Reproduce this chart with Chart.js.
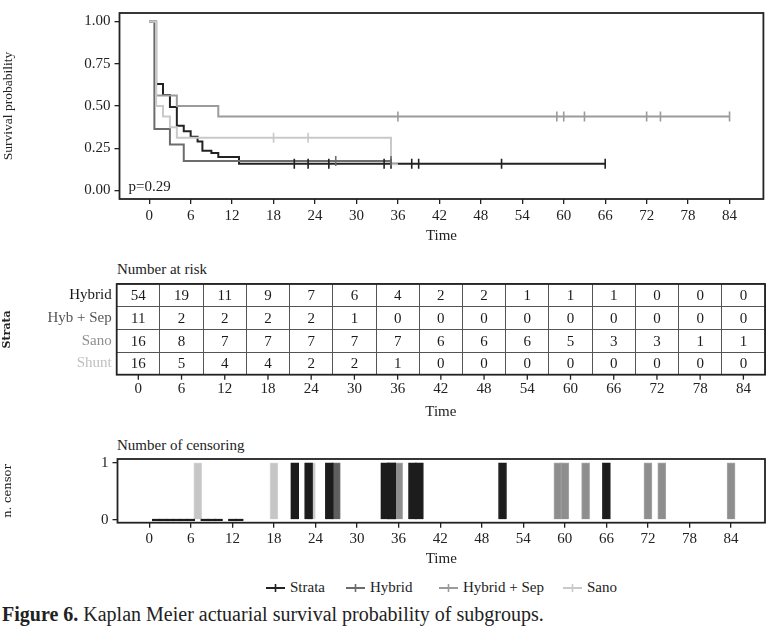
<!DOCTYPE html>
<html>
<head>
<meta charset="utf-8">
<script src="https://cdn.jsdelivr.net/npm/chart.js@4.4.1/dist/chart.umd.min.js"></script>
<style>
  body { margin: 0; background: #fff; width: 770px; height: 627px; position: relative; overflow: hidden;
         font-family: "Liberation Serif", "Times New Roman", serif; color: #222; }
  canvas { position: absolute; left: 0; }
  .txt { position: absolute; white-space: nowrap; font-size: 15px; line-height: 1; }
  .leg { position: absolute; top: 580px; font-size: 15px; line-height: 1; white-space: nowrap; }
  .leg svg { vertical-align: middle; margin-right: 5px; position: relative; top: -1px; }
</style>
</head>
<body>
<canvas id="km" width="770" height="250" style="top:0"></canvas>
<div class="txt" style="left:117px; top:262px">Number at risk</div>
<canvas id="risk" width="770" height="160" style="top:262px"></canvas>
<div class="txt" style="left:117px; top:438px">Number of censoring</div>
<canvas id="cens" width="770" height="140" style="top:430px"></canvas>
<div id="legend"></div>
<div class="txt" style="left:2px; top:604px; font-size:20px"><b>Figure 6.</b> Kaplan Meier actuarial survival probability of subgroups.</div>

<script>
const timeTicks = [0, 6, 12, 18, 24, 30, 36, 42, 48, 54, 60, 66, 72, 78, 84];
const survTicks = [0, 0.25, 0.5, 0.75, 1];
const strata = ['Hybrid', 'Hyb + Sep', 'Sano', 'Shunt'];
const legendNames = ['Strata', 'Hybrid', 'Hybrid + Sep', 'Sano'];
const lineColors = ['#222222', '#6c6c6c', '#9b9b9b', '#c9c9c9'];
const labelColors = ['#1a1a1a', '#555555', '#8e8e8e', '#c0c0c0'];

// Kaplan-Meier steps (time, survival after the step)
const hybridTime = [0, 1, 2, 3, 4, 5, 6, 7, 7.7, 9, 10, 13, 66];
const hybridSurv = [1, 0.63, 0.565, 0.494, 0.383, 0.35, 0.318, 0.29, 0.235, 0.222, 0.198, 0.158, 0.158];
const hybSepTime = [0, 0.75, 3, 5, 35];
const hybSepSurv = [1, 0.364, 0.273, 0.175, 0.175];
const sanoTime = [0, 1, 4, 10, 84];
const sanoSurv = [1, 0.5625, 0.5, 0.4375, 0.4375];
const shuntTime = [0, 1, 2, 3, 4, 35, 36];
const shuntSurv = [1, 0.5, 0.4375, 0.375, 0.3125, 0.156, 0.156];

// censor marks on curves
const hybridMarks = [21, 23, 26, 34, 35, 38, 39, 51, 66];
const hybSepMarks = [27, 35];
const sanoMarks = [36, 59, 60, 63, 72, 74, 84];
const shuntMarks = [18, 23];

// number at risk
const riskHybrid = [54, 19, 11, 9, 7, 6, 4, 2, 2, 1, 1, 1, 0, 0, 0];
const riskHybSep = [11, 2, 2, 2, 2, 1, 0, 0, 0, 0, 0, 0, 0, 0, 0];
const riskSano   = [16, 8, 7, 7, 7, 7, 7, 6, 6, 6, 5, 3, 3, 1, 1];
const riskShunt  = [16, 5, 4, 4, 2, 2, 1, 0, 0, 0, 0, 0, 0, 0, 0];

// number of censoring
const hybridCensTime = [1, 2, 3, 4, 5, 6, 8, 9, 10, 12, 13, 21, 23, 26, 34, 35, 38, 39, 51, 66];
const hybridCensN    = [0, 0, 0, 0, 0, 0, 0, 0, 0, 0, 0, 1, 1, 1, 1, 1, 1, 1, 1, 1];
const hybSepCensTime = [27, 35];
const hybSepCensN    = [1, 1];
const sanoCensTime   = [36, 59, 60, 63, 72, 74, 84];
const sanoCensN      = [1, 1, 1, 1, 1, 1, 1];
const shuntCensTime  = [7, 18, 23.4];
const shuntCensN     = [1, 1, 1];

Chart.defaults.font.family = '"Liberation Serif", "Times New Roman", serif';
Chart.defaults.color = '#222';
const f15 = { size: 15 };

const frame = {
  id: 'frame',
  afterDraw(chart) {
    const { ctx, chartArea: a } = chart;
    ctx.save();
    ctx.strokeStyle = '#222';
    ctx.lineWidth = 1.8;
    ctx.strokeRect(a.left, a.top, a.right - a.left, a.bottom - a.top);
    ctx.restore();
  }
};

const pts = (xs, ys) => xs.map((x, i) => ({ x, y: ys[i] }));
const marks = (xs, y) => xs.map(x => ({ x, y }));

function xAxis(min, h, pad, tpad) {
  return {
    type: 'linear', min, max: 88.9, offset: false,
    afterBuildTicks: s => { s.ticks = timeTicks.map(v => ({ value: v })); },
    afterFit: s => { s.height = h; },
    grid: { offset: false, drawOnChartArea: false, tickLength: 5, color: '#222', lineWidth: 1.3 },
    border: { display: false },
    ticks: { font: f15, color: '#222', padding: pad, maxRotation: 0, autoSkip: false },
    title: { display: true, text: 'Time', font: f15, color: '#222', padding: { top: 0, bottom: tpad } }
  };
}

// ---- Kaplan-Meier panel
const curves = [
  [hybridTime, hybridSurv], [hybSepTime, hybSepSurv], [sanoTime, sanoSurv], [shuntTime, shuntSurv]
];
const markSets = [hybridMarks, hybSepMarks, sanoMarks, shuntMarks];
const kmSets = [];
curves.forEach((c, i) => {
  kmSets.push({
    data: pts(c[0], c[1]), showLine: true, stepped: true, pointRadius: 0,
    borderColor: lineColors[i], borderWidth: 2, order: 10 - i
  });
});
markSets.forEach((m, i) => {
  const lvl = curves[i][1][curves[i][1].length - 1];
  const yv = i === 3 ? 0.3125 : lvl;
  kmSets.push({
    data: marks(m, yv), showLine: false, pointStyle: 'line', rotation: 90, pointRadius: 5,
    borderColor: lineColors[i], borderWidth: 1.6, order: 4 - i
  });
});

new Chart(document.getElementById('km'), {
  type: 'scatter',
  data: { datasets: kmSets },
  options: {
    responsive: false, animation: false,
    layout: { padding: { top: 1, right: 5, left: 0, bottom: 0 } },
    plugins: { legend: { display: false }, tooltip: { enabled: false } },
    scales: {
      x: xAxis(-4.3, 51, 3, 5),
      y: {
        min: -0.05, max: 1.05,
        afterBuildTicks: s => { s.ticks = survTicks.map(v => ({ value: v })); },
        afterFit: s => { s.width = 119.5; },
        grid: { drawOnChartArea: false, tickLength: 5, color: '#222', lineWidth: 1.3 },
        border: { display: false },
        ticks: { font: f15, color: '#222', padding: 4, callback: v => v.toFixed(2) },
        title: { display: true, text: 'Survival probability', font: { size: 13.5, lineHeight: 1 }, color: '#222', padding: { top: 2, bottom: 0 } }
      }
    }
  },
  plugins: [frame, {
    id: 'pval',
    afterDatasetsDraw(chart) {
      const { ctx, chartArea: a } = chart;
      ctx.save();
      ctx.font = '15px "Liberation Serif"';
      ctx.fillStyle = '#222';
      ctx.textBaseline = 'middle';
      ctx.fillText('p=0.29', a.left + 9, a.bottom - 12);
      ctx.restore();
    }
  }]
});

// ---- Risk table
const riskRows = [riskHybrid, riskHybSep, riskSano, riskShunt];
new Chart(document.getElementById('risk'), {
  type: 'scatter',
  data: { labels: timeTicks.map(String), datasets: [] },
  options: {
    responsive: false, animation: false,
    layout: { padding: { top: 22, right: 5, left: 0, bottom: 0 } },
    plugins: { legend: { display: false }, tooltip: { enabled: false } },
    scales: {
      x: {
        type: 'category', labels: timeTicks.map(String), offset: true,
        afterFit: s => { s.height = 47.3; },
        grid: { offset: true, drawTicks: false, color: '#555', lineWidth: 1 },
        border: { display: false },
        ticks: { font: f15, color: '#222', padding: 5, maxRotation: 0, autoSkip: false },
        title: { display: true, text: 'Time', font: f15, color: '#222', padding: { top: 0, bottom: 1 } }
      },
      y: {
        type: 'category', labels: strata, offset: true,
        afterFit: s => { s.width = 116.7; },
        grid: { offset: true, drawTicks: false, color: '#555', lineWidth: 1 },
        border: { display: false },
        ticks: { font: f15, padding: 5, color: c => labelColors[c.index] },
        title: { display: true, text: 'Strata', font: { family: '"DejaVu Serif"', size: 11, weight: 'bold', lineHeight: 1 }, color: '#222', padding: { top: 2, bottom: 0 } }
      }
    }
  },
  plugins: [frame, {
    id: 'cells',
    afterDatasetsDraw(chart) {
      const { ctx, chartArea: a, scales: { x, y } } = chart;
      ctx.save();
      ctx.font = '15px "Liberation Serif"';
      ctx.fillStyle = '#1a1a1a';
      ctx.textAlign = 'center';
      ctx.textBaseline = 'middle';
      riskRows.forEach((row, j) => row.forEach((v, i) => {
        ctx.fillText(String(v), x.getPixelForValue(i), y.getPixelForValue(j) + 1);
      }));
      ctx.strokeStyle = '#222';
      ctx.lineWidth = 1.3;
      timeTicks.forEach((t, i) => {
        const px = x.getPixelForValue(i);
        ctx.beginPath(); ctx.moveTo(px, a.bottom); ctx.lineTo(px, a.bottom + 5); ctx.stroke();
      });
      ctx.restore();
    }
  }]
});

// ---- Number of censoring
const cens = [
  [hybridCensTime, hybridCensN, '#1c1c1c', '#1c1c1c'],
  [hybSepCensTime, hybSepCensN, '#5e5e5e', '#6e6e6e'],
  [sanoCensTime, sanoCensN, '#8e8e8e', '#a6a6a6'],
  [shuntCensTime, shuntCensN, '#c6c6c6', '#d6d6d6']
];
new Chart(document.getElementById('cens'), {
  type: 'bar',
  data: {
    datasets: cens.map((c, i) => ({
      data: pts(c[0], c[1]), backgroundColor: c[2], borderColor: c[3], borderWidth: 1,
      barThickness: 8, minBarLength: 2, grouped: false, order: i
    }))
  },
  options: {
    responsive: false, animation: false,
    layout: { padding: { top: 29, right: 5, left: 0, bottom: 0 } },
    plugins: { legend: { display: false }, tooltip: { enabled: false } },
    scales: {
      x: xAxis(-4.59, 47.3, 2, 1.5),
      y: {
        min: -0.05, max: 1.065,
        afterBuildTicks: s => { s.ticks = [0, 1].map(v => ({ value: v })); },
        afterFit: s => { s.width = 117.5; },
        grid: { drawOnChartArea: false, tickLength: 5, color: '#222', lineWidth: 1.3 },
        border: { display: false },
        ticks: { font: f15, color: '#222', padding: 4 },
        title: { display: true, text: 'n. censor', font: { family: '"DejaVu Serif"', size: 11.5, lineHeight: 1 }, color: '#222', padding: { top: 2, bottom: 0 } }
      }
    }
  },
  plugins: [frame]
});

// ---- Legend
const legX = [266, 346, 439, 563];
const legend = document.getElementById('legend');
legendNames.forEach((name, i) => {
  const d = document.createElement('div');
  d.className = 'leg';
  d.style.left = legX[i] + 'px';
  d.innerHTML = '<svg width="19" height="10"><line x1="0" y1="5" x2="19" y2="5" stroke="' + lineColors[i] +
    '" stroke-width="2"/><line x1="9.5" y1="1" x2="9.5" y2="9" stroke="' + lineColors[i] +
    '" stroke-width="1.6"/></svg>' + name;
  legend.appendChild(d);
});
</script>
</body>
</html>
